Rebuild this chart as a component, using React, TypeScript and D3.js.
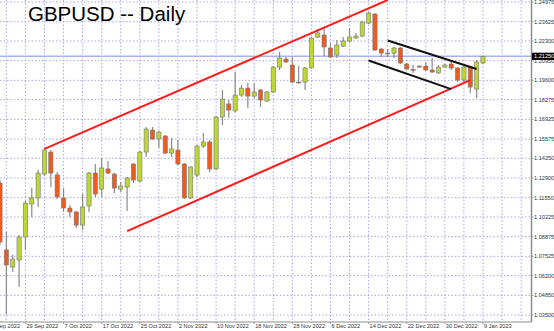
import React from "react";
import * as d3 from "d3";

const opens = [1.1256,1.0796,1.0679,1.0727,1.0885,1.1112,1.1153,1.1317,1.1468,1.1311,1.1153,1.1084,1.1057,1.0967,1.1098,1.1324,1.1214,1.1352,1.1317,1.1214,1.1228,1.1386,1.1269,1.1468,1.1619,1.1557,1.1578,1.1461,1.1482,1.1386,1.1153,1.1310,1.1509,1.1537,1.1352,1.1708,1.1798,1.1750,1.1859,1.1907,1.1852,1.1894,1.1818,1.1880,1.2051,1.2106,1.2065,1.1948,1.1948,1.2045,1.2257,1.2271,1.2182,1.2134,1.2195,1.2230,1.2250,1.2264,1.2353,1.2415,1.2175,1.2147,1.2147,1.2182,1.2072,1.2034,1.2058,1.2058,1.2031,1.2011,1.2051,1.2072,1.2045,1.1962,1.2051,1.1900,1.2079];
const highs = [1.1276,1.0919,1.0762,1.0899,1.1132,1.1221,1.1345,1.1496,1.1482,1.1331,1.1221,1.1105,1.1064,1.1180,1.1331,1.1386,1.1427,1.1407,1.1324,1.1262,1.1297,1.1393,1.1475,1.1640,1.1640,1.1612,1.1585,1.1564,1.1551,1.1393,1.1372,1.1516,1.1599,1.1551,1.1715,1.1894,1.1825,1.2017,1.1928,1.1942,1.1942,1.1900,1.1887,1.2058,1.2154,1.2120,1.2120,1.2058,1.2051,1.2257,1.2312,1.2319,1.2216,1.2237,1.2257,1.2319,1.2285,1.2367,1.2429,1.2422,1.2180,1.2175,1.2189,1.2189,1.2079,1.2065,1.2061,1.2086,1.2113,1.2065,1.2072,1.2086,1.2051,1.2058,1.2058,1.2099,1.2130];
const lows = [1.0830,1.0356,1.0645,1.0542,1.0796,1.1022,1.1091,1.1304,1.1228,1.1146,1.1057,1.1022,1.0947,1.0933,1.1057,1.1160,1.1160,1.1317,1.1187,1.1194,1.1064,1.1256,1.1262,1.1434,1.1551,1.1496,1.1455,1.1434,1.1379,1.1146,1.1146,1.1297,1.1496,1.1331,1.1345,1.1653,1.1702,1.1743,1.1846,1.1770,1.1839,1.1777,1.1811,1.1873,1.2031,1.2079,1.1942,1.1938,1.1894,1.2038,1.2250,1.2127,1.2113,1.2113,1.2189,1.2223,1.2243,1.2257,1.2346,1.2161,1.2120,1.2120,1.2113,1.2072,1.2031,1.2011,1.2048,1.2024,1.2011,1.2003,1.2045,1.2031,1.1948,1.1948,1.1873,1.1839,1.2072];
const closes = [1.0851,1.0693,1.0734,1.0885,1.1118,1.1153,1.1324,1.1482,1.1324,1.1160,1.1084,1.1057,1.0967,1.1091,1.1324,1.1180,1.1359,1.1324,1.1221,1.1235,1.1290,1.1276,1.1468,1.1626,1.1557,1.1605,1.1461,1.1489,1.1386,1.1153,1.1365,1.1509,1.1537,1.1352,1.1708,1.1832,1.1756,1.1859,1.1907,1.1852,1.1880,1.1825,1.1880,1.2051,1.2113,1.2086,1.1948,1.1942,1.2045,1.2250,1.2285,1.2189,1.2120,1.2202,1.2230,1.2257,1.2264,1.2360,1.2422,1.2168,1.2147,1.2141,1.2182,1.2079,1.2038,1.2031,1.2051,1.2031,1.2017,1.2051,1.2065,1.2045,1.1962,1.2051,1.1914,1.2086,1.2125];

const xTickIndex = [-2,4,10,16,22,28,34,40,46,52,58,64,70,76];
const xTickLabels = ["21 Sep 2022","29 Sep 2022","7 Oct 2022","17 Oct 2022","25 Oct 2022","2 Nov 2022","10 Nov 2022","18 Nov 2022","28 Nov 2022","6 Dec 2022","14 Dec 2022","22 Dec 2022","30 Dec 2022","9 Jan 2023"];
const yTicks = [1.24975,1.23625,1.22300,1.20950,1.19600,1.18275,1.16925,1.15575,1.14250,1.12900,1.11550,1.10225,1.08875,1.07525,1.06200,1.04850,1.03500];
const currentPrice = 1.2125;

// trend lines: [startIndex, startPrice, endIndex, endPrice]
const channelUpper = [7, 1.1490, 61, 1.2511];
const channelLower = [20, 1.0926, 74, 1.1962];
const flagUpper = [61, 1.2233, 75, 1.2038];
const flagLower = [58, 1.2096, 71, 1.1900];

const W = 554, H = 331;
const plotRight = 531.5, plotBottom = 322;

export default function App() {
  const x = d3.scaleLinear().domain([0, 76]).range([0, 483]);
  const y = d3.scaleLinear().domain([1.035, 1.24975]).range([315, 2]);
  const bull = "#bdd634", bear = "#f05a1e";
  const bw = 4.2;
  const gridIdx: number[] = [];
  for (let i = -2; i <= 84; i++) if (((i % 3) + 3) % 3 === 1) gridIdx.push(i);
  const lines = [
    { d: channelUpper, c: "#ff1a1a" },
    { d: channelLower, c: "#ff1a1a" },
    { d: flagUpper, c: "#111" },
    { d: flagLower, c: "#111" },
  ];
  return (
    <div style={{ position: "fixed", left: 0, top: 0, width: W, height: H, background: "#fff" }}>
      <svg width={W} height={H} style={{ display: "block", fontFamily: "'Liberation Sans', Arial, sans-serif" }}>
        <defs>
          <clipPath id="plot">
            <rect x={0} y={0} width={plotRight} height={plotBottom} />
          </clipPath>
        </defs>
        <rect x={0} y={0} width={W} height={H} fill="#fff" />
        <g clipPath="url(#plot)">
          {yTicks.map((t) => (
            <line key={"h" + t} x1={0} x2={plotRight} y1={y(t)} y2={y(t)} stroke="#a6a6e6" strokeWidth={1} strokeDasharray="1.5,2" />
          ))}
          {gridIdx.map((i) => (
            <line key={"v" + i} x1={x(i)} x2={x(i)} y1={0} y2={plotBottom} stroke="#a6a6e6" strokeWidth={1} strokeDasharray="1.5,2" />
          ))}
          <line x1={0} x2={plotRight} y1={y(currentPrice)} y2={y(currentPrice)} stroke="#a9b3e6" strokeWidth={1.6} />
          {opens.map((o, i) => {
            const c = closes[i];
            const up = c > o;
            const top = y(Math.max(o, c));
            const bot = y(Math.min(o, c));
            return (
              <g key={"c" + i}>
                <line x1={x(i)} x2={x(i)} y1={y(highs[i])} y2={y(lows[i])} stroke="#8a8a8a" strokeWidth={1.2} />
                <rect x={x(i) - bw / 2} y={top} width={bw} height={Math.max(bot - top, 0.8)} fill={up ? bull : bear} stroke="#777" strokeWidth={0.6} />
              </g>
            );
          })}
          {lines.map((l, j) => (
            <line key={"t" + j} x1={x(l.d[0])} y1={y(l.d[1])} x2={x(l.d[2])} y2={y(l.d[3])} stroke={l.c} strokeWidth={2} />
          ))}
        </g>
        <text x={28} y={21} fontSize={20.5} fill="#000" fontFamily="'Liberation Sans', Arial, sans-serif">GBPUSD -- Daily</text>
        <line x1={plotRight} x2={plotRight} y1={0} y2={plotBottom} stroke="#8c8c8c" strokeWidth={1.5} />
        <line x1={0} x2={plotRight} y1={plotBottom} y2={plotBottom} stroke="#8c8c8c" strokeWidth={1} />
        {yTicks.map((t) => (
          <g key={"yl" + t}>
            <line x1={plotRight} x2={plotRight + 2} y1={y(t)} y2={y(t)} stroke="#8c8c8c" strokeWidth={0.8} />
            <text x={534} y={y(t) + 2} fontSize={5.6} fill="#333">{t.toFixed(5)}</text>
          </g>
        ))}
        <rect x={532} y={y(currentPrice) - 3.6} width={22} height={7.2} fill="#000" />
        <text x={534} y={y(currentPrice) + 2} fontSize={5.6} fill="#fff">{currentPrice.toFixed(5)}</text>
        {xTickIndex.map((i, j) => (
          <g key={"xl" + i}>
            <line x1={x(i)} x2={x(i)} y1={plotBottom} y2={plotBottom + 2} stroke="#8c8c8c" strokeWidth={0.8} />
            <text x={x(i) + 1} y={328} fontSize={5.6} fill="#333">{xTickLabels[j]}</text>
          </g>
        ))}
      </svg>
    </div>
  );
}
